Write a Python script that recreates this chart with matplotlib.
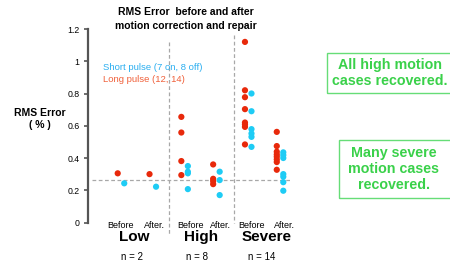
import matplotlib
matplotlib.use("Agg")
import matplotlib.pyplot as plt
from matplotlib.patches import Rectangle

plt.rcParams['font.family'] = ['Liberation Sans', 'DejaVu Sans']

# positions: 0 Low-Before, 1 Low-After, 2 High-Before, 3 High-After, 4 Severe-Before, 5 Severe-After
long_pulse = {
    0: [0.305],
    1: [0.30],
    2: [0.655, 0.558, 0.381, 0.294],
    3: [0.36, 0.271, 0.257, 0.238],
    4: [1.12, 0.82, 0.777, 0.703, 0.62, 0.608, 0.593, 0.484],
    5: [0.562, 0.474, 0.439, 0.422, 0.408, 0.391, 0.375, 0.327],
}
short_pulse = {
    0: [0.243],
    1: [0.222],
    2: [0.35, 0.315, 0.305, 0.207],
    3: [0.315, 0.263, 0.17],
    4: [0.80, 0.69, 0.579, 0.552, 0.531, 0.469],
    5: [0.435, 0.418, 0.40, 0.30, 0.284, 0.25, 0.197],
}
stage_labels = ["Before", "After.", "Before", "After.", "Before", "After."]
groups = ["Low", "High", "Severe"]
group_n = ["n = 2", "n = 8", "n = 14"]
yticks = [0, 0.2, 0.4, 0.6, 0.8, 1, 1.2]
yticklabels = ["0", "0.2", "0.4", "0.6", "0.8", "1", "1.2"]
threshold = 0.266

RED = "#E8290B"
CYAN = "#1ECCF5"
GREEN = "#3AD14A"

fig = plt.figure(figsize=(4.5, 2.65), dpi=100)
ax = fig.add_axes([88/450, 1 - 222.5/265, (300-88)/450, (222.5-29)/265])
ax.set_xlim(-0.934, 5.73)
ax.set_ylim(0, 1.2)

off = 0.205
for pos, vals in long_pulse.items():
    ax.scatter([pos]*len(vals), vals, s=20, color=RED, edgecolors='none', zorder=3)
for pos, vals in short_pulse.items():
    ax.scatter([pos + off]*len(vals), vals, s=20, color=CYAN, edgecolors='none', zorder=3)

# reference dashed lines
ax.plot([-0.8, 5.48], [threshold, threshold], ls=(0, (3, 2)), color="#A8A8A8", lw=0.9, zorder=1)
x1 = (169 - 117.7) / 31.8
x2 = (234 - 117.7) / 31.8
ax.plot([x1, x1], [1.12, -0.08], ls=(0, (3, 2)), color="#A8A8A8", lw=0.9, zorder=1, clip_on=False)
ax.plot([x2, x2], [1.16, -0.0], ls=(0, (3, 2)), color="#A8A8A8", lw=0.9, zorder=1, clip_on=False)

for s in ["top", "right", "bottom"]:
    ax.spines[s].set_visible(False)
ax.spines["left"].set_color("#555555")
ax.spines["left"].set_linewidth(1.6)
ax.set_xticks([])
ax.set_yticks(yticks)
ax.set_yticklabels(yticklabels, fontsize=6.3)
ax.tick_params(axis='y', length=3, width=1.2, color="#555555", pad=3)

# x labels
stage_x = [121, 154, 190, 220, 251, 284]
for xp, lab in zip(stage_x, stage_labels):
    fig.text(xp/450, 1 - 226/265, lab, fontsize=6.5, ha='center', va='center')
group_x = [134, 201, 267]
for xp, lab in zip(group_x, groups):
    fig.text(xp/450, 1 - 237/265, lab, fontsize=11, fontweight='bold', ha='center', va='center')
n_x = [132, 197, 262]
for xp, lab in zip(n_x, group_n):
    fig.text(xp/450, 1 - 257/265, lab, fontsize=7, ha='center', va='center')

# title
fig.text(186/450, 1 - 19/265, "RMS Error  before and after\nmotion correction and repair",
         fontsize=7.5, fontweight='bold', ha='center', va='center', linespacing=1.4)
# y label
fig.text(40/450, 1 - 119/265, "RMS Error\n( % )", fontsize=7.5, fontweight='bold',
         ha='center', va='center', linespacing=1.3)

# legend text
fig.text(103/450, 1 - 68/265, "Short pulse (7 on, 8 off)", fontsize=6.8, color="#2AAEF0", ha='left', va='center')
fig.text(103/450, 1 - 80/265, "Long pulse (12, 14)", fontsize=6.8, color="#F0603A", ha='left', va='center')

# green annotation boxes
fig.text(390/450, 1 - 73/265, "All high motion\ncases recovered.", fontsize=10.3, fontweight='bold',
         color=GREEN, ha='center', va='center', linespacing=1.2)
fig.text(394/450, 1 - 169/265, "Many severe\nmotion cases\nrecovered.", fontsize=10.3, fontweight='bold',
         color=GREEN, ha='center', va='center', linespacing=1.2)
fig.patches.append(Rectangle((327/450, 1 - 93/265), 130/450, 40/265, transform=fig.transFigure,
                             fill=False, ec="#66DD77", lw=1.0))
fig.patches.append(Rectangle((339/450, 1 - 198/265), 118/450, 58/265, transform=fig.transFigure,
                             fill=False, ec="#66DD77", lw=1.0))

fig.savefig("out.png", dpi=100)
